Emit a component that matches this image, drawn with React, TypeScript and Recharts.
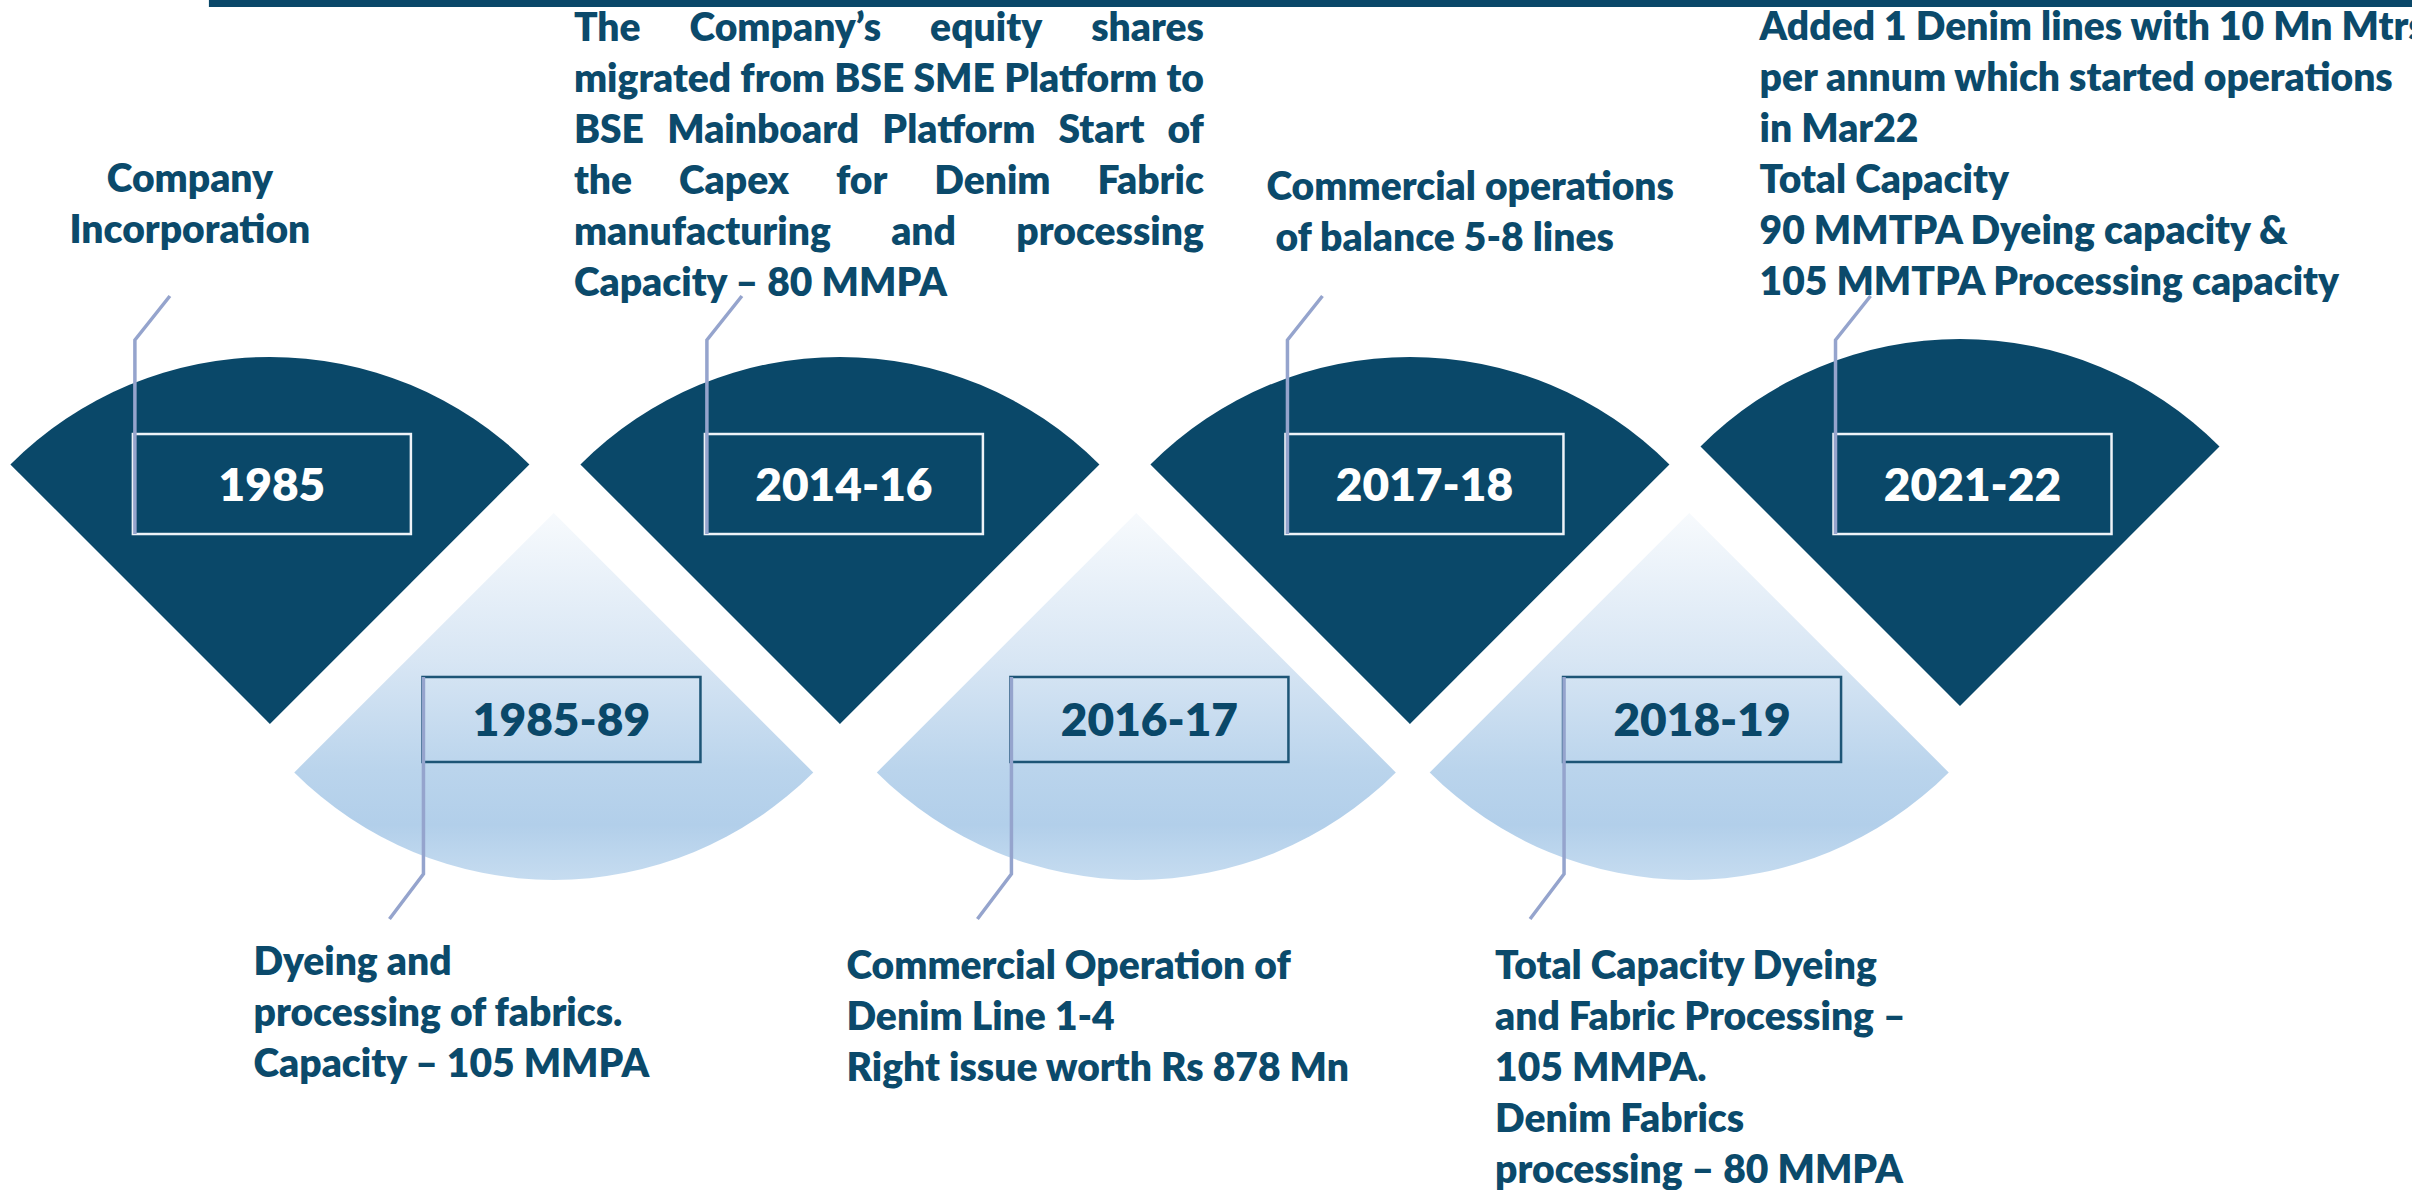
import React from "react";
import { ScatterChart, Scatter, XAxis, YAxis, Sector, ReferenceArea } from "recharts";

// timeline slots (x) and levels (y)
const darkFanSlots = [0, 2.0, 4.0, 5.93];
const darkFanLevels = [0, 0, 0, 0.085];
const lightFanSlots = [0.996, 3.04, 4.98];
const lightFanLevels = [1, 1, 1];

const upperYears = ["1985", "2014-16", "2017-18", "2021-22"];
const upperTagSlots = [0.007, 2.014, 4.051, 5.974];
const upperTagLevel = 1.137;
const upperNotes = [
  ["Company", "Incorporation"],
  [
    "The Company’s equity shares",
    "migrated from BSE SME Platform to",
    "BSE Mainboard Platform Start of",
    "the Capex for Denim Fabric",
    "manufacturing and processing",
    "Capacity – 80 MMPA",
  ],
  ["Commercial operations", " of balance 5-8 lines"],
  [
    "Added 1 Denim lines with 10 Mn Mtrs",
    "per annum which started operations",
    "in Mar22",
    "Total Capacity",
    "90 MMTPA Dyeing capacity &",
    "105 MMTPA Processing capacity",
  ],
];

const lowerYears = ["1985-89", "2016-17", "2018-19"];
const lowerTagSlots = [1.023, 3.086, 5.025];
const lowerTagLevel = 0.021;
const lowerNotes = [
  ["Dyeing and", "processing of fabrics.", "Capacity – 105 MMPA"],
  ["Commercial Operation of", "Denim Line 1-4", "Right issue worth Rs 878 Mn"],
  ["Total Capacity Dyeing", "and Fabric Processing –", "105 MMPA.", "Denim Fabrics", "processing – 80 MMPA"],
];

const darkFans = darkFanSlots.map((x, i) => ({ x, y: darkFanLevels[i] }));
const lightFans = lightFanSlots.map((x, i) => ({ x, y: lightFanLevels[i] }));
const upperTags = upperYears.map((year, i) => ({ x: upperTagSlots[i], y: upperTagLevel, year, notes: upperNotes[i], idx: i }));
const lowerTags = lowerYears.map((year, i) => ({ x: lowerTagSlots[i], y: lowerTagLevel, year, notes: lowerNotes[i], idx: i }));

// layout
const W = 2412;
const H = 1190;
const NAVY = "#0A4869";
const TEXT = "#0B4A6B";
const CALLOUT = "#95A4CD";
const FONT = "Lato, 'Open Sans', sans-serif";
const WEIGHT = 800;
const FAN_R = 367;
const BOX_W = 278;
const NOTE_SIZE = 39;
const YEAR_SIZE = 46;
const LINE_H = 51;

// note block offsets from the tag box's left/top corner
const upperNoteLayout = [
  { dx: 57, dy: -242, anchor: "middle", justify: 0 },
  { dx: -131, dy: -393, anchor: "start", justify: 630 },
  { dx: -19, dy: -234, anchor: "start", justify: 0 },
  { dx: -74, dy: -394, anchor: "start", justify: 0 },
];
const lowerNoteLayout = [
  { dx: -169, dy: 298 },
  { dx: -164, dy: 302 },
  { dx: -68, dy: 302 },
];

let ctx: CanvasRenderingContext2D | null = null;
function measure(s: string) {
  if (!ctx) ctx = document.createElement("canvas").getContext("2d");
  if (!ctx) return s.length * NOTE_SIZE * 0.5;
  ctx.font = `${WEIGHT} ${NOTE_SIZE}px Lato`;
  return ctx.measureText(s).width;
}

function JustifiedLine({ text, x, y, width }: { text: string; x: number; y: number; width: number }) {
  const words = text.split(" ");
  const widths = words.map(measure);
  const total = widths.reduce((a, b) => a + b, 0);
  const gap = words.length > 1 ? (width - total) / (words.length - 1) : 0;
  let pos = x;
  return (
    <text y={y} fill={TEXT} fontFamily={FONT} fontWeight={WEIGHT} fontSize={NOTE_SIZE}>
      {words.map((w, i) => {
        const tx = pos;
        pos += widths[i] + gap;
        return (
          <tspan key={i} x={tx}>
            {w}
          </tspan>
        );
      })}
    </text>
  );
}

function Notes({ lines, x, y, anchor = "start", justify = 0 }: any) {
  return (
    <g>
      {lines.map((line: string, i: number) =>
        justify && i < lines.length - 1 ? (
          <JustifiedLine key={i} text={line} x={x} y={y + i * LINE_H} width={justify} />
        ) : (
          <text
            key={i}
            x={x}
            y={y + i * LINE_H}
            textAnchor={anchor}
            fill={TEXT}
            fontFamily={FONT}
            fontWeight={WEIGHT}
            fontSize={NOTE_SIZE}
            style={{ whiteSpace: "pre" }}
          >
            {line}
          </text>
        )
      )}
    </g>
  );
}

const darkFan = (props: any) => {
  const { cx, cy } = props;
  if (cx == null || cy == null) return <g />;
  return <Sector cx={cx} cy={cy} innerRadius={0} outerRadius={FAN_R} startAngle={45} endAngle={135} fill={NAVY} />;
};

const lightFan = (props: any) => {
  const { cx, cy } = props;
  if (cx == null || cy == null) return <g />;
  return (
    <Sector cx={cx} cy={cy} innerRadius={0} outerRadius={FAN_R} startAngle={225} endAngle={315} fill="url(#lightFanFill)" />
  );
};

const upperTag = (props: any) => {
  const { cx, cy, payload } = props;
  if (cx == null || cy == null) return <g />;
  const bh = 100;
  const bx = cx - BOX_W / 2;
  const by = cy - bh / 2;
  const lay = upperNoteLayout[payload.idx];
  return (
    <g>
      <rect x={bx} y={by} width={BOX_W} height={bh} fill="none" stroke="#EEF3F8" strokeWidth={2.5} />
      <polyline
        points={`${bx + 2},${by + bh} ${bx + 2},${by - 94} ${bx + 37},${by - 138}`}
        fill="none"
        stroke={CALLOUT}
        strokeWidth={3.5}
      />
      <text x={cx} y={cy + 17} textAnchor="middle" fill="#FFFFFF" fontFamily={FONT} fontWeight={WEIGHT} fontSize={YEAR_SIZE}>
        {payload.year}
      </text>
      <Notes lines={payload.notes} x={bx + lay.dx} y={by + lay.dy} anchor={lay.anchor} justify={lay.justify} />
    </g>
  );
};

const lowerTag = (props: any) => {
  const { cx, cy, payload } = props;
  if (cx == null || cy == null) return <g />;
  const bh = 85;
  const bx = cx - BOX_W / 2;
  const by = cy - bh / 2;
  const lay = lowerNoteLayout[payload.idx];
  return (
    <g>
      <rect x={bx} y={by} width={BOX_W} height={bh} fill="none" stroke="#1D5576" strokeWidth={2.5} />
      <polyline
        points={`${bx + 1},${by} ${bx + 1},${by + 197} ${bx - 33},${by + 242}`}
        fill="none"
        stroke={CALLOUT}
        strokeWidth={3.5}
      />
      <text x={cx} y={cy + 17} textAnchor="middle" fill={NAVY} fontFamily={FONT} fontWeight={WEIGHT} fontSize={YEAR_SIZE}>
        {payload.year}
      </text>
      <Notes lines={payload.notes} x={bx + lay.dx} y={by + lay.dy} />
    </g>
  );
};

export default function App() {
  return (
    <div style={{ position: "absolute", left: 0, top: 0, width: W, height: H, background: "#FFFFFF" }}>
      <ScatterChart width={W} height={H} margin={{ top: 0, right: 0, bottom: 0, left: 0 }}>
        <defs>
          <linearGradient id="lightFanFill" x1="0" y1="0" x2="0" y2="1">
            <stop offset="0%" stopColor="#F7FAFD" />
            <stop offset="40%" stopColor="#D8E6F4" />
            <stop offset="70%" stopColor="#BAD4EC" />
            <stop offset="85%" stopColor="#B2CFEA" />
            <stop offset="100%" stopColor="#C6DCF0" />
          </linearGradient>
        </defs>
        <XAxis type="number" dataKey="x" domain={[-0.947, 7.516]} allowDataOverflow hide />
        <YAxis type="number" dataKey="y" domain={[-2.209, 3.431]} allowDataOverflow hide />
        <ReferenceArea x1={-0.214} x2={7.516} y1={3.398} y2={3.431} fill={NAVY} fillOpacity={1} stroke="none" />
        <Scatter data={darkFans} shape={darkFan} isAnimationActive={false} />
        <Scatter data={lightFans} shape={lightFan} isAnimationActive={false} />
        <Scatter data={upperTags} shape={upperTag} isAnimationActive={false} />
        <Scatter data={lowerTags} shape={lowerTag} isAnimationActive={false} />
      </ScatterChart>
    </div>
  );
}
